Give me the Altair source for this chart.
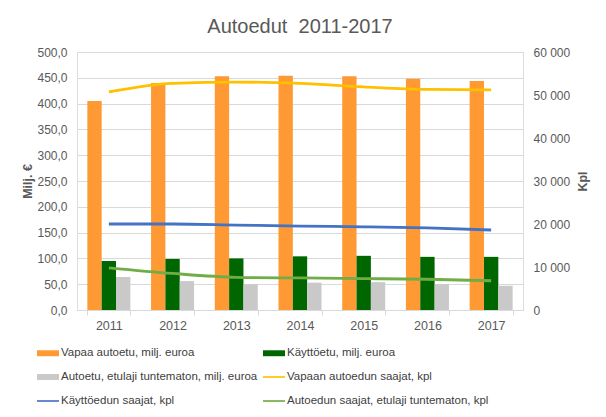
import altair as alt
import pandas as pd

years = ["2011", "2012", "2013", "2014", "2015", "2016", "2017"]

# Milj. euroa (left axis)
vapaa_autoetu = [405, 440, 453, 454, 453, 448, 444]
kayttoetu = [95, 99, 100, 104, 105, 103, 103]
tuntematon_eur = [64, 56, 50, 53, 54, 50, 47]

# Kpl (right axis)
vapaan_saajat = [50700, 52700, 53000, 52700, 51900, 51300, 51200]
kayton_saajat = [20000, 20000, 19750, 19500, 19350, 19100, 18600]
tuntematon_saajat = [9800, 8500, 7600, 7450, 7300, 7150, 6800]

bar_series = [
    "Vapaa autoetu, milj. euroa",
    "Käyttöetu, milj. euroa",
    "Autoetu, etulaji tuntematon, milj. euroa",
]
line_series = [
    "Vapaan autoedun saajat, kpl",
    "Käyttöedun saajat, kpl",
    "Autoedun saajat, etulaji tuntematon, kpl",
]
all_series = bar_series + line_series
series_colors = ["#FF9933", "#006600", "#C9C9C9", "#FFC000", "#4472C4", "#70AD47"]

rect_path = "M-1,-0.27H1V0.27H-1Z"
line_path = "M-1,-0.075H1V0.075H-1Z"
legend_shapes = [rect_path] * 3 + [line_path] * 3

bar_rows = []
for s, vals in zip(bar_series, [vapaa_autoetu, kayttoetu, tuntematon_eur]):
    for y, v in zip(years, vals):
        bar_rows.append({"year": y, "series": s, "value": v})
bar_df = pd.DataFrame(bar_rows)

line_rows = []
for s, vals in zip(line_series, [vapaan_saajat, kayton_saajat, tuntematon_saajat]):
    for y, v in zip(years, vals):
        line_rows.append({"year": y, "series": s, "value": v})
line_df = pd.DataFrame(line_rows)

legend_df = pd.DataFrame({"series": all_series})

FONT = "Liberation Sans"
TXT = "#595959"

color_scale = alt.Scale(domain=all_series, range=series_colors)
x_scale = alt.Scale(domain=years, paddingInner=0.325, paddingOuter=0.1625)

x_axis = alt.Axis(
    title=None, labelAngle=0, labelFontSize=12.5, labelColor=TXT, labelFont=FONT,
    domainColor="#d9d9d9", tickColor="#d9d9d9", tickSize=5, tickBand="extent",
    labelPadding=4, grid=False,
)

legend_def = alt.Legend(
    title=None, orient="none", legendX=-40, legendY=290, columns=2,
    direction="horizontal",
    symbolSize=484, labelFontSize=11.5, labelColor="#404040", labelFont=FONT,
    labelLimit=400, labelOffset=2, columnPadding=5, rowPadding=7,
    symbolStrokeWidth=0, symbolOpacity=1,
)

bars = alt.Chart(bar_df).mark_bar().encode(
    x=alt.X("year:N", scale=x_scale, axis=x_axis),
    xOffset=alt.XOffset("series:N", sort=bar_series,
                        scale=alt.Scale(domain=bar_series, paddingInner=0, paddingOuter=0)),
    y=alt.Y("value:Q", scale=alt.Scale(domain=[0, 500]),
            axis=alt.Axis(
                title="Milj. €", titleFontSize=12.5, titleFontWeight="bold", titleColor=TXT,
                titleFont=FONT, titlePadding=2,
                values=list(range(0, 501, 50)),
                labelExpr="replace(format(datum.value, '.1f'), '.', ',')",
                labelFontSize=12, labelColor=TXT, labelFont=FONT, labelPadding=10,
                ticks=False, domain=False, gridColor="#d9d9d9", gridWidth=1,
            )),
    color=alt.Color("series:N", scale=color_scale, legend=legend_def, sort=all_series),
)

lines = alt.Chart(line_df).mark_line(strokeWidth=2.8, interpolate="monotone").encode(
    x=alt.X("year:N", scale=x_scale, axis=x_axis),
    y=alt.Y("value:Q", scale=alt.Scale(domain=[0, 60000]),
            axis=alt.Axis(
                orient="right", title="Kpl", titleFontSize=12.5, titleFontWeight="bold",
                titleColor=TXT, titleFont=FONT, titlePadding=7, titleAngle=270,
                titleBaseline="top",
                values=list(range(0, 60001, 10000)),
                labelExpr="replace(format(datum.value, ',d'), ',', ' ')",
                labelFontSize=12, labelColor=TXT, labelFont=FONT, labelPadding=10,
                ticks=False, domain=False, grid=False,
            )),
    color=alt.Color("series:N", scale=color_scale, legend=legend_def, sort=all_series),
    detail="series:N",
)

legend_layer = alt.Chart(legend_df).mark_point(filled=True, opacity=0).encode(
    x=alt.value(0),
    y=alt.value(0),
    color=alt.Color("series:N", scale=color_scale, legend=legend_def, sort=all_series),
    shape=alt.Shape("series:N", scale=alt.Scale(domain=all_series, range=legend_shapes),
                    legend=legend_def, sort=all_series),
)

chart = alt.layer(bars, lines, legend_layer).resolve_scale(
    y="independent"
).properties(
    width=446,
    height=258,
    autosize=alt.AutoSizeParams(type="none"),
    padding={"left": 69, "top": 44, "right": 75, "bottom": 99},
    title=alt.TitleParams("Autoedut\u00a0 2011-2017", fontSize=20, fontWeight="normal",
                          color=TXT, font=FONT, offset=9, anchor="middle"),
).configure_view(stroke=None).configure(background="white")

chart.save("out.html", embed_options={"renderer": "svg", "actions": False})
